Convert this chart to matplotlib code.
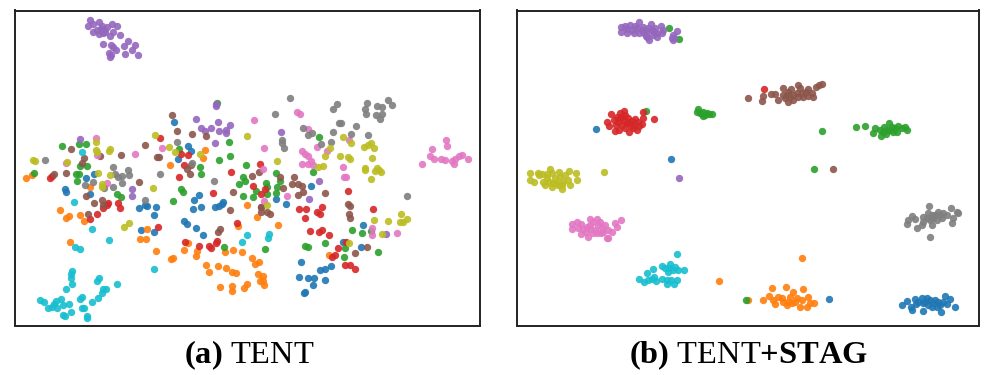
import matplotlib
matplotlib.use("Agg")
import matplotlib.pyplot as plt
import numpy as np

# 2-D embedding points, one list per class
a_blue = [(174,121.7),(188,145.7),(190.7,150.7),(178,159.3),(85.7,178.3),(94.3,174),(65.3,189.3),(65.7,191.7),(90.3,194.3),(138.7,208.3),(144.7,205),(147,205.7),(156.3,207),(154,215),(140.7,230),(154,231.7),(184.3,221),(187,224),(196,227.7),(202.7,235.3),(199,195.3),(194.3,199.7),(192.7,208.7),(201.3,207.3),(214.7,207),(218.7,206),(221.7,204),(223.3,202),(311,186),(276.3,199),(286.3,203.7),(362.7,225.3),(343.3,242.3),(360.7,247.3),(301,262.3),(319.7,270),(325.3,269),(331,266.3),(299,276.7),(308,278.3),(314,278.3),(325,279.7),(313.3,284.7),(305.3,291.7),(304,292.7)]
a_orange = [(26.3,178.3),(32,175),(170.3,165),(205,150.3),(203.3,157.7),(89.7,187),(59.7,210),(65.7,218.3),(69.3,215.7),(79.7,215),(83.7,221),(69.7,241.7),(140,238.7),(145.7,238.7),(147.3,229),(155.7,251.3),(171,259.3),(173,257.7),(183.7,249.7),(187.7,243.3),(197.3,251.3),(196.3,256),(206,265),(209.3,272),(218,266),(226.3,268),(232,271.7),(236,273),(219.7,287),(232,286.3),(232,290.7),(243.7,288.3),(247,284),(225.3,251.7),(232.7,249.7),(242.3,251.7),(238.3,226.3),(247.3,205.3),(256.7,217),(277.7,225),(251.7,258.3),(259.3,262),(255,264),(258.3,274),(262.7,276),(260,280.7),(262.7,280.7),(263.7,285.3),(329,255)]
a_green = [(217,102.7),(62,146.3),(79.3,144.3),(86.3,143.7),(179,149),(229,142),(229.7,156),(218.7,159.7),(245.7,165),(80,166),(87.3,165.7),(75.7,174.3),(78.7,174.3),(77.3,180.7),(34.3,172.7),(199.7,167.3),(201,174),(243,177),(238.7,184.3),(245,181),(181,188.7),(117.3,194.3),(120.7,197),(172.7,200.7),(183.3,191.7),(243,196.3),(224.3,246.7),(319.3,137),(313.3,172),(276.3,173),(280,181),(277.3,186.7),(265.7,182.7),(267.3,187.3),(255.7,191),(267.3,194.3),(252.7,196.7),(276,192.7),(352.3,229.7),(362,233),(371.3,230.7),(325,242.7),(305.3,246),(307.7,247),(265,249.3),(345,248.3),(344.3,257.3),(377.7,252)]
a_red = [(160,138),(181,154),(187.7,154.7),(183.7,164.7),(179,177),(230.7,172),(50,177.7),(52,175.7),(213,192.7),(117.7,203),(108.3,203.3),(106.7,205),(103.3,207.7),(119.7,208),(96.7,213.7),(90,219),(157.7,227.3),(185.3,241.7),(198.7,246),(209,245.7),(211.3,247.7),(216,243.3),(217.3,241),(236.7,222.7),(260,164),(252.7,186),(265,189),(260.7,194.3),(348,191),(299.3,209.3),(305.7,209),(322.3,207.3),(373.3,209),(317,212),(320.3,213.7),(305,217.7),(310.3,231.3),(319,231.7),(322.3,230.3),(329,235.3),(345.7,242.3),(338.3,248.3),(335,255),(332.3,257),(345,264.7),(349.7,265),(354.7,268.7)]
a_purple = [(90.3,20),(99,21.7),(92.7,24),(88.3,26),(111.7,24.3),(117.3,26),(101.7,26),(96.7,30),(93,32),(99.3,34.3),(104,30),(106.7,27.3),(105,31.7),(112.7,32),(110,36),(120.3,34.7),(128,40.7),(103.3,44),(110.7,45),(113.3,47.3),(116.3,50),(124,45.7),(135,45.3),(132,50),(108.7,52.7),(110.7,55),(110.3,57.3),(125,53.7),(138,55.3),(101,29.3),(102.7,32.7),(215.7,106),(216,104),(196,119),(218.3,121.7),(201.3,128),(204.7,130.7),(211.3,128),(230.3,124.7),(219.3,131),(226.3,130),(225.7,133.3),(215,142.7),(79.7,138.7),(132,189.3),(132,195.7),(281,132),(319.3,181),(308.7,199),(385.7,234.3)]
a_brown = [(171.7,115.3),(176.7,130.7),(192.3,133.7),(205.7,136),(70.7,149.3),(145,144.7),(120.7,155),(100,156.3),(84,158.3),(82.3,163.3),(156.7,156.7),(159,156.7),(65.7,173.3),(53.7,174),(139,181.7),(189.7,174.3),(186.7,169.3),(191,165),(233.3,191.7),(94,203.3),(86,196.3),(102.3,199.7),(103,205),(88.3,214.3),(218,232),(219.7,229),(229.7,210),(259,172.3),(252.3,176),(280.3,177),(283.3,187.7),(293.7,177),(291.7,184.3),(298,184.3),(302.3,186.3),(303,192),(298.3,194.7),(325.3,193.3),(347.7,203.7),(349.7,205.7),(260.7,207.3),(261.3,207.3),(261.3,212),(267,211.7),(270.3,214.3),(349,214),(350,218),(367.3,247),(355.3,253)]
a_pink = [(96,138),(162.3,148.3),(135.3,154.3),(97.3,154.7),(66.3,163.3),(107,182.7),(253.7,120),(263.7,148.3),(263,169.3),(297.3,112),(300.3,114),(308.3,129),(348.7,139.7),(316.7,147.3),(326.7,150.7),(301.7,151.3),(305.3,154),(308.3,156),(311.3,161),(313.3,165),(301.7,163.7),(308.3,163.7),(342.7,166.7),(343.7,177.3),(346.3,177.3),(286.7,196),(264.3,200.7),(445.7,140),(446.7,145.7),(432.3,148.7),(430.3,156),(434.3,159.3),(422.3,164),(441.3,159.3),(445.3,160.3),(452.3,161.3),(455,159),(454.3,164),(459.3,155.7),(462.3,155),(468,159),(372,228),(372,234.7),(397,233.3)]
a_gray = [(45.3,160.3),(112.7,166.7),(128,169.7),(129.3,174.7),(115,174.3),(117.7,177.3),(121.7,176.3),(122.3,183.3),(113.3,186.7),(93,182),(84.7,184.7),(104,187.7),(160,174),(177.3,141.7),(191.7,162.7),(213.7,181.3),(144.7,200),(290,98.3),(274.7,114.3),(332.7,109),(336.7,104.3),(303.3,128.3),(307.7,135),(312.3,133.3),(321,144.3),(331,142.3),(332.7,131.7),(350.7,134.3),(338.7,123),(341.3,123),(356.3,126),(368,135.3),(366.7,102.7),(365,109.3),(365.7,114),(375.7,115.3),(381.7,114.3),(380.3,119),(377,105.7),(381.7,106.7),(387.7,100),(392,105.3),(282.3,140),(282.3,142.7),(284,147.7),(407,196)]
a_olive = [(33.3,160.3),(34.7,161.3),(66.7,161.7),(96,142.3),(96,150.3),(97.3,152),(110,149.3),(109.3,150.7),(97.7,173.3),(110,175.3),(102,183.7),(102,186.7),(155.3,135),(168.7,147),(174.7,152),(200.3,153.7),(247.3,136),(153,187.7),(124,227),(129.3,223),(276.7,161),(267,205.3),(343,137.3),(351,143),(330,148),(324.7,155.7),(317.7,166.7),(323,166),(340,155.7),(347.7,156.7),(350,158.7),(364.3,147.3),(368,145),(371.3,143),(374,148.3),(371.7,158.3),(365,168.3),(365.3,170.3),(375,171),(377,168.3),(379,170),(380.7,171.7),(371.3,178.7),(374,220.3),(387.7,221),(349.3,243.3),(401.3,213.7),(406.7,219.3),(400.3,221.7),(402.7,221.7),(382,234)]
a_cyan = [(82,151.7),(74.3,202.3),(91.7,229.3),(109,239.7),(74.7,247.3),(80,249.3),(154.3,269),(71.7,271),(71.3,274.3),(70.7,278),(72.3,284.3),(66,289.3),(98.7,278),(97.3,281.3),(117.3,283.7),(106,288.7),(103.3,289.3),(101.7,293.3),(81.7,297),(80.3,299),(97.7,298),(92.3,302),(61.3,298.7),(40,299.7),(44,302),(56,301.3),(54.3,304.3),(51.7,306.7),(47.7,307.7),(57.3,308.3),(63.3,305.3),(69,304.3),(71,312.3),(63.3,314.7),(65.3,315.7),(87.3,315.7),(87.3,317.7),(81.7,307.7),(84,307.7),(247.3,235),(241.7,242.3),(269,234),(268,237.7)]

b_blue = [(596,129.3),(670.7,159),(829.3,298.7),(902,305),(906.7,300.7),(910.7,306.7),(911.7,310),(915,299.3),(916,304),(921.7,298.3),(923.3,310.7),(923.3,303.3),(926.7,298.3),(928.3,305),(930,300),(931.7,306.7),(935,300),(936.7,307.3),(940,305),(941,311.7),(945,295.7),(946.7,304),(950,299.3),(955,307),(925,301.7),(933.3,303.3),(938.3,301.7),(918.3,301.7),(943.3,301.7)]
b_orange = [(718.7,281.3),(748,299.7),(801.7,258.3),(763.3,300),(769.3,296),(771.7,288.3),(773.3,300),(775,304.3),(778.3,296.7),(781.7,298.3),(786,286.7),(783.3,301.7),(786.7,305),(790,296.7),(793.3,291.7),(795,301.7),(800,307.3),(802.7,289.3),(801.7,300),(806.7,307.3),(808.3,296.7),(810,303.3),(814,302.7),(788.3,301.7),(791.7,303.3),(797.3,298.3)]
b_green = [(669.3,28.3),(679,38.7),(646,111.3),(746.3,299.7),(698.3,109.3),(697.3,112),(700,112.7),(701.7,114),(703.3,112),(705,115),(706.7,112.7),(709.3,114),(712,113.7),(702.7,116),(822,131),(813.7,169),(856,126.7),(865.3,125.7),(873.3,133),(875,128.3),(881.3,135.7),(880,130),(884,126.7),(886,134),(889,123.3),(890,130),(891.7,126.7),(893.3,131.7),(897.3,131.7),(898.3,126),(901.7,128.3),(905,126.7),(906.7,130),(886.7,130),(895,128.3),(882.7,131.7)]
b_red = [(764.3,89.3),(611,114.3),(607,122),(609,126.3),(615,131.3),(624.3,110.7),(620,113.3),(616.7,116.7),(614.3,120),(618.3,121.7),(621.7,117.3),(625,115),(628.3,118.3),(631.7,120.7),(635,119.3),(638.3,121.7),(642.7,112.3),(643.3,118.3),(641.7,124),(639.3,126),(636.7,130),(629.3,132.3),(625,128.3),(619.3,130),(616,125),(621.7,125),(626.7,123.3),(630.7,126),(634,125),(625,120.7),(653.7,118.7),(629.3,121.7),(633.3,128.3),(620,118.3)]
b_purple = [(678.7,178),(620.7,26.7),(621,31.7),(625,26),(626.7,32.7),(630,25),(631.7,30),(634,32.7),(636.7,28.3),(639,22),(639.3,33.3),(641.7,30),(643.3,26.7),(644.3,33.3),(646.7,30.7),(647.3,36.7),(649.3,40),(650.7,24),(651.7,30),(652.7,35),(655,28.3),(656.7,33.3),(657.3,36.7),(660.7,26),(661.7,33.3),(662.7,30),(626.7,29.3),(635,26),(648.3,28.3),(654,31.7),(646,36),(677.3,31),(672.7,35),(674.3,37.7),(671.7,38.3),(673.3,40)]
b_brown = [(833.3,168.7),(747.7,98.3),(762,100.7),(762.7,95.7),(771,93.7),(775,94.3),(778,100.3),(782.7,88.3),(783.3,95),(785,98.3),(787.7,101.7),(788.3,91.7),(790.7,89.3),(792.7,100),(793.3,95),(796.7,93.3),(798.3,85),(800,88.3),(801.7,93.3),(803.3,96.7),(805.7,91.7),(807.7,89.3),(808.3,96),(811.7,93.3),(813.3,96.7),(816,86.7),(819.3,85),(821.7,84),(786.7,95),(790,96.7),(798.3,96.7)]
b_pink = [(571.7,224),(572,229),(576.7,222.3),(580.7,224.3),(581,233.7),(578.3,228.3),(583.3,229.3),(586,231.7),(588.3,236.7),(590,219.3),(590,225),(593.3,221.7),(595,230),(596.7,219.3),(598.3,225),(600,221.7),(601.7,228.3),(603.3,231.7),(605,225),(606.7,238.3),(608.3,238.3),(611.7,232.3),(615,222.7),(616.7,227.3),(621,220.3),(592.7,233.3),(597.3,232.7),(590,229.3),(586.7,226.7),(608.3,230),(600.7,233.3)]
b_gray = [(929,206),(930.3,236.7),(906.7,224.3),(908.3,220),(911.7,216),(917.3,227.7),(915,219.3),(922.7,221.7),(923.3,216.7),(928.3,213.3),(930,220),(931.7,225),(935,215),(936.7,220),(938.3,211.7),(941.7,218.3),(943.3,213.3),(946.7,215),(950.7,208.3),(951.7,223.3),(953.3,217.7),(956.7,211.7),(958.3,213.3),(926.7,218.3),(933.3,218.3),(921.7,225),(940,215),(931.7,215)]
b_olive = [(604,172.3),(529.7,173.3),(530,180),(534,182.3),(537.7,172.7),(541.7,174),(543.3,181.7),(545,185),(547.3,178.3),(550,169),(551.7,173.3),(549.3,181.7),(552.3,187.3),(555,178.3),(556.7,183.3),(559,171.7),(560,176.7),(561.7,189.3),(563.3,181.7),(565,175),(569.3,170.7),(570,185),(568.3,180),(575.7,173.3),(577,180),(553.3,182.7),(558.3,185),(546.7,174),(561.7,185),(539.3,175)]
b_cyan = [(677,253.7),(684,270.3),(639.3,279),(644.3,282.3),(646.7,273.3),(648.3,280),(652.7,269),(654,276.7),(656,280.7),(661.7,266),(661.7,279),(666.7,280),(670,264),(669.3,268.3),(673.3,270),(675,266.7),(677.7,270),(676.7,280),(674.3,284.3),(666.7,284.3),(671,280),(668.3,271.7),(665,268.3),(651.7,279.3)]

tent_classes = [a_blue, a_orange, a_green, a_red, a_purple, a_brown, a_pink, a_gray, a_olive, a_cyan]
stag_classes = [b_blue, b_orange, b_green, b_red, b_purple, b_brown, b_pink, b_gray, b_olive, b_cyan]

plt.rcParams['font.family'] = 'Liberation Serif'
plt.rcParams['mathtext.fontset'] = 'custom'
plt.rcParams['mathtext.rm'] = 'Liberation Serif'
plt.rcParams['mathtext.bf'] = 'Liberation Serif:bold'

W, H = 996, 375
fig = plt.figure(figsize=(W / 100, H / 100), dpi=100)


def panel(x0, x1, y0, y1, classes):
    ax = fig.add_axes([x0 / W, 1 - y1 / H, (x1 - x0) / W, (y1 - y0) / H])
    for i, pts in enumerate(classes):
        xy = np.array(pts)
        ax.scatter(xy[:, 0], xy[:, 1], s=28, color=f"C{i}", alpha=0.9, linewidths=0)
    ax.set_xlim(x0, x1)
    ax.set_ylim(y1, y0)
    ax.set_xticks([])
    ax.set_yticks([])
    for s in ax.spines.values():
        s.set_linewidth(1.4)
        s.set_color('#222222')
    return ax


panel(15, 479.5, 10.5, 325.5, tent_classes)
panel(516.5, 979, 10.5, 325.5, stag_classes)

# captions
fig.text(249.5 / W, 1 - 363 / H, r"$\mathbf{(a)}$ TENT", fontsize=23.4,
         ha='center', va='baseline', color='black')
fig.text(748 / W, 1 - 363 / H, r"$\mathbf{(b)}$ TENT$\mathbf{+STAG}$", fontsize=23.4,
         ha='center', va='baseline', color='black')

fig.savefig("out.png", dpi=100)
